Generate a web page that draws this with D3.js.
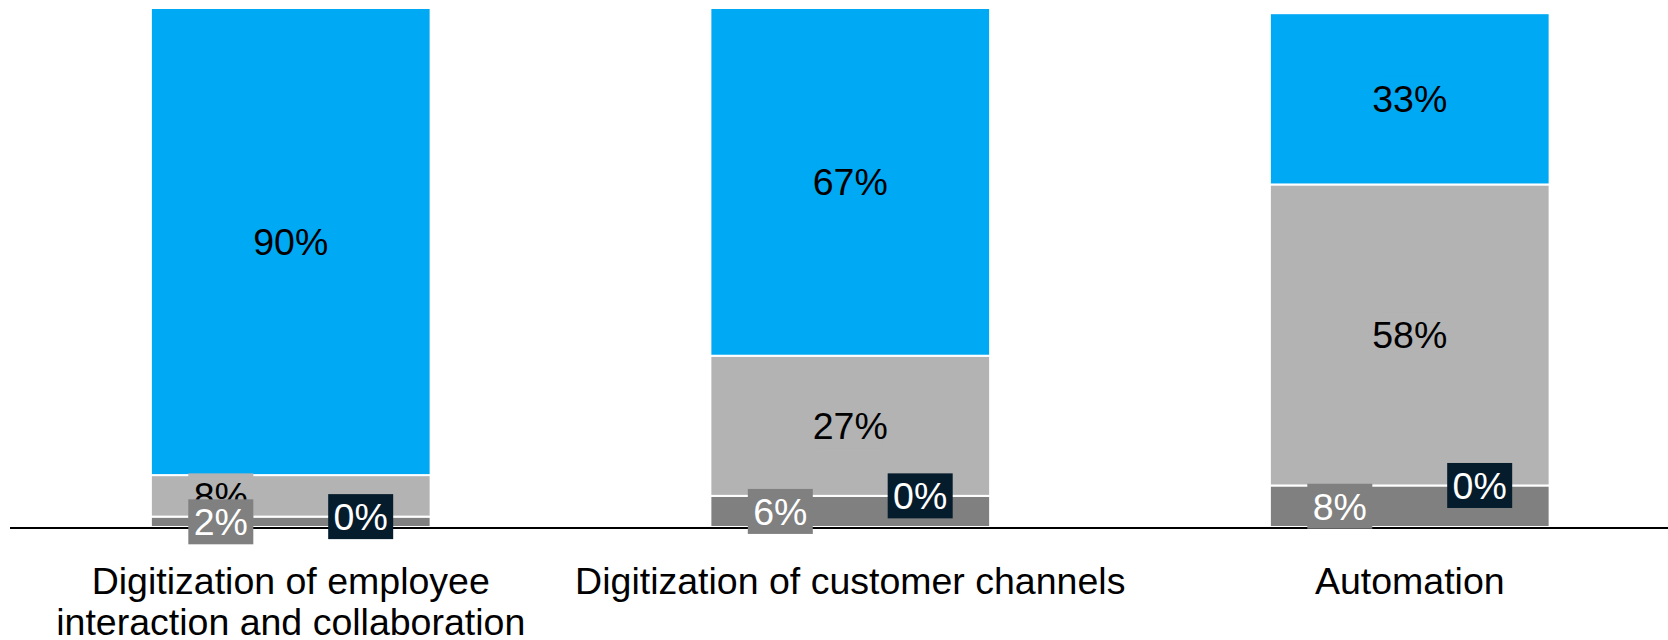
<!DOCTYPE html>
<html>
<head>
<meta charset="utf-8">
<script src="https://cdn.jsdelivr.net/npm/d3@7"></script>
<style>
  html, body { margin: 0; padding: 0; background: #ffffff; }
  svg { display: block; font-family: "Liberation Sans", Arial, sans-serif; }
</style>
</head>
<body>
<svg id="chart" width="1668" height="640"></svg>
<script>
// Categories (line breaks mark where the axis label wraps)
const categories = [
  "Digitization of employee\ninteraction and collaboration",
  "Digitization of customer channels",
  "Automation"
];

// Stacked series, bottom to top
const seriesKeys = ["dark", "none", "light", "blue"];
const darkValues  = [2, 6, 8];
const noneValues  = [0, 0, 0];
const lightValues = [8, 27, 58];
const blueValues  = [90, 67, 33];

const seriesColors = {
  dark: "#808080",
  none: "#051c2c",
  light: "#b3b3b3",
  blue: "#00a9f4"
};
const labelColors = { dark: "#ffffff", none: "#ffffff", light: "#000000", blue: "#000000" };

// Labels are painted top series first so lower boxes sit above them
const labelOrder = ["blue", "light", "dark", "none"];

const rows = categories.map((c, i) => ({
  category: c,
  dark: darkValues[i],
  none: noneValues[i],
  light: lightValues[i],
  blue: blueValues[i]
}));

const svg = d3.select("#chart");
const W = 1668;

const x = d3.scaleBand()
  .domain(categories)
  .range([11, 1689.5])
  .paddingInner(0.5)
  .paddingOuter(0.25);

const y = d3.scaleLinear()
  .domain([0, 100])
  .range([527, 8]);

const stacked = d3.stack().keys(seriesKeys)(rows);

// Bars
const layers = svg.append("g").attr("class", "bars")
  .selectAll("g")
  .data(stacked)
  .join("g")
  .attr("fill", d => seriesColors[d.key]);

layers.selectAll("rect")
  .data(d => d.map(p => ({ p, key: d.key })))
  .join("rect")
  .attr("x", d => x(d.p.data.category))
  .attr("width", x.bandwidth())
  .attr("y", d => y(d.p[1]))
  .attr("height", d => Math.max(0, y(d.p[0]) - y(d.p[1])))
  .attr("stroke", "#ffffff")
  .attr("stroke-width", d => (d.p[1] - d.p[0]) > 0 ? 2 : 0);

// Baseline axis
svg.append("line")
  .attr("x1", 10).attr("x2", W)
  .attr("y1", y(0) + 1).attr("y2", y(0) + 1)
  .attr("stroke", "#000000")
  .attr("stroke-width", 2);

// Value labels
const fontSize = 37.5;
const labelData = [];
stacked.forEach(layer => {
  layer.forEach(p => {
    const v = p[1] - p[0];
    let frac = 0.5;
    if (layer.key === "none") frac = 0.75;
    else if (v < 10) frac = 0.25;
    labelData.push({
      key: layer.key,
      value: v,
      cx: x(p.data.category) + x.bandwidth() * frac,
      cy: (y(p[0]) + y(p[1])) / 2
    });
  });
});
labelData.sort((a, b) => labelOrder.indexOf(a.key) - labelOrder.indexOf(b.key));

const labels = svg.append("g").attr("class", "labels")
  .selectAll("g")
  .data(labelData)
  .join("g")
  .attr("transform", d => `translate(${d.cx},${d.cy})`);

labels.append("rect")
  .attr("x", -32.5)
  .attr("y", -22.5)
  .attr("width", 65)
  .attr("height", 45)
  .attr("fill", d => seriesColors[d.key]);

labels.append("text")
  .attr("text-anchor", "middle")
  .attr("dy", "0.36em")
  .attr("font-size", fontSize)
  .attr("fill", d => labelColors[d.key])
  .text(d => d3.format(".0f")(d.value) + "%");

// Category labels
const cat = svg.append("g").attr("class", "categories")
  .selectAll("text")
  .data(categories)
  .join("text")
  .attr("x", d => x(d) + x.bandwidth() / 2)
  .attr("y", 594)
  .attr("text-anchor", "middle")
  .attr("font-size", fontSize)
  .attr("fill", "#000000");

cat.selectAll("tspan")
  .data(d => d.split("\n").map((t, i) => ({ t, i, c: d })))
  .join("tspan")
  .attr("x", d => x(d.c) + x.bandwidth() / 2)
  .attr("dy", d => d.i === 0 ? 0 : 41)
  .text(d => d.t);
</script>
</body>
</html>
